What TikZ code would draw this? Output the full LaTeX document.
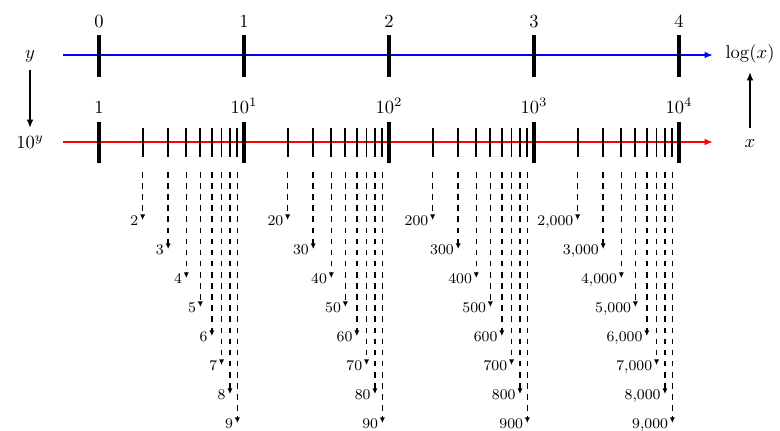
\documentclass[tikz,border=0pt]{standalone}
\usetikzlibrary{arrows.meta}
\newcommand{\kthou}{,000}
\begin{document}
\begin{tikzpicture}[x=0.54pt,y=-0.54pt,
  majortick/.style={line width=1.8pt},
  minortick/.style={line width=0.95pt},
  axisline/.style={line width=0.9pt,-{Latex[length=4.5pt,width=3.6pt]}},
  maparrow/.style={line width=0.8pt,-{Latex[length=4.5pt,width=3.6pt]}},
  guide/.style={dashed,line width=0.85pt,-{Latex[length=3pt,width=2.8pt]}},
  biglab/.style={inner sep=0pt},
  smalllab/.style={font=\footnotesize,inner sep=0pt}]
\useasboundingbox (0,0) rectangle (780,430);
% axes
\coordinate (bstart) at (63,55);
\coordinate (bend) at (713,55);
\coordinate (rstart) at (63,142);
\coordinate (rend) at (713,142);
\draw[axisline,blue] (bstart) -- (bend);
\draw[axisline,red] (rstart) -- (rend);
% major ticks and labels
\foreach \d/\lab in {0/1,1/10^1,2/10^2,3/10^3,4/10^4}{
  \pgfmathsetmacro\X{99+145*\d}
  \coordinate (ta\d) at (\X,35);
  \coordinate (tb\d) at (\X,77);
  \coordinate (ra\d) at (\X,122);
  \coordinate (rb\d) at (\X,163);
  \draw[majortick] (ta\d) -- (tb\d);
  \draw[majortick] (ra\d) -- (rb\d);
  \node[biglab,anchor=base] (top\d) at (\X,27) {$\d$};
  \node[biglab,anchor=base] (bot\d) at (\X,113) {$\lab$};
}
% minor ticks and guides
\foreach \d/\suf in {0/,1/0,2/00,3/\kthou}{
  \foreach \k in {2,...,9}{
    \pgfmathsetmacro\X{99+145*(\d+log10(\k))}
    \pgfmathsetmacro\Y{220+29*(\k-2)}
    \coordinate (ma\d\k) at (\X,128);
    \coordinate (mb\d\k) at (\X,157);
    \draw[minortick] (ma\d\k) -- (mb\d\k);
    \coordinate (s\d\k) at (\X,172);
    \coordinate (e\d\k) at (\X,\Y);
    \draw[guide] (s\d\k) -- (e\d\k);
    \node[smalllab,anchor=base east] (l\d\k) at (\X-4,\Y+5.5) {\k\suf};
  }
}
% side labels
\node[biglab,anchor=base] (ylab) at (30,58) {$y$};
\node[biglab,anchor=base] (tylab) at (30,148) {$10^y$};
\node[biglab,anchor=base] (loglab) at (750,58) {$\log(x)$};
\node[biglab,anchor=base] (xlab) at (750,147) {$x$};
\coordinate (ya) at (30,70);
\coordinate (yb) at (30,128);
\coordinate (xa) at (750,128);
\coordinate (xb) at (750,72);
\draw[maparrow] (ya) -- (yb);
\draw[maparrow] (xa) -- (xb);
\end{tikzpicture}
\end{document}
